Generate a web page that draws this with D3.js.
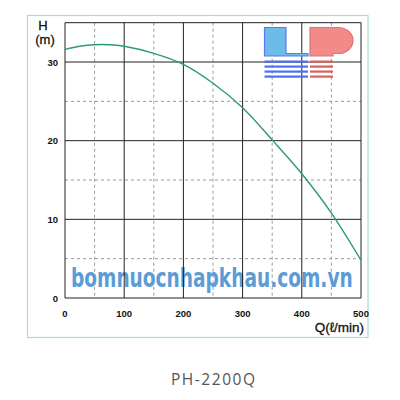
<!DOCTYPE html>
<html><head><meta charset="utf-8">
<script src="https://cdn.jsdelivr.net/npm/d3@7"></script>
<style>body{margin:0;background:#fff}svg{display:block}</style>
</head><body>
<svg id="c" width="400" height="400"></svg>
<script>
const flowQ = [0, 25, 50, 75, 100, 150, 200, 250, 300, 350, 400, 450, 500];
const headH = [31.6, 32.0, 32.2, 32.2, 32.0, 31.1, 29.7, 27.3, 24.2, 20.1, 15.8, 10.8, 4.8];
const xMajor = [0, 100, 200, 300, 400, 500];
const xMinor = [50, 150, 250, 350, 450];
const yMajor = [0, 10, 20, 30];
const yMinor = [5, 15, 25];
const title = "PH-2200Q";
const watermark = "bomnuocnhapkhau.com.vn";

const svg = d3.select("#c");
const x = d3.scaleLinear().domain([0, 500]).range([65, 361]);
const y = d3.scaleLinear().domain([0, 35]).range([298, 22.7]);

// outer frame
svg.append("rect").attr("x", 27.5).attr("y", 15.5).attr("width", 340.5).attr("height", 322)
  .attr("fill", "#fff").attr("stroke", "#a3e2cb").attr("stroke-width", 1.2);

const g = svg.append("g");
// minor dashed grid
g.selectAll(".vm").data(xMinor).join("line")
  .attr("x1", d => x(d)).attr("x2", d => x(d)).attr("y1", y(35)).attr("y2", y(0))
  .attr("stroke", "#999").attr("stroke-dasharray", "3,3").attr("stroke-width", 1);
g.selectAll(".hm").data(yMinor).join("line")
  .attr("y1", d => y(d)).attr("y2", d => y(d)).attr("x1", x(0)).attr("x2", x(500))
  .attr("stroke", "#999").attr("stroke-dasharray", "3,3").attr("stroke-width", 1);

// watermark (behind major grid), scaled horizontally to fit
const wm = svg.append("text").attr("x", 0).attr("y", 0)
  .attr("font-family", "'DejaVu Sans Condensed','Liberation Sans Narrow',sans-serif")
  .attr("font-weight", "bold").attr("font-size", 27).attr("fill", "#5b9bd6")
  .text(watermark);
const wlen = wm.node().getComputedTextLength();
wm.attr("transform", `translate(71,287) scale(${282 / wlen},1)`);

// major grid
const gm = svg.append("g");
gm.selectAll(".vM").data(xMajor).join("line")
  .attr("x1", d => x(d)).attr("x2", d => x(d)).attr("y1", y(35)).attr("y2", y(0))
  .attr("stroke", "#222").attr("stroke-width", 1);
gm.selectAll(".hM").data(yMajor.concat([35])).join("line")
  .attr("y1", d => y(d)).attr("y2", d => y(d)).attr("x1", x(0)).attr("x2", x(500))
  .attr("stroke", "#222").attr("stroke-width", 1);

// logo
const logo = svg.append("g");
logo.append("path")
  .attr("d", "M264.5,27.5 H286 V53.5 H308 V56 H264.5 Z")
  .attr("fill", "#6cbbe9").attr("stroke", "#5a78f0").attr("stroke-width", 1.2);
logo.append("path")
  .attr("d", "M310,27.5 H338 A15,13 0 0 1 338,53.5 H333 V56 H310 Z")
  .attr("fill", "#f28a8a").attr("stroke", "#e07272").attr("stroke-width", 1.2);
[60.5, 65.5, 70.5, 75.5].forEach(yy => {
  logo.append("rect").attr("x", 264.5).attr("y", yy).attr("width", 43.5).attr("height", 2.2).attr("fill", "#4e6ef0");
  logo.append("rect").attr("x", 310).attr("y", yy).attr("width", 23).attr("height", 2.2).attr("fill", "#d86262");
});

// curve
svg.append("path").datum(flowQ.map((q, i) => [q, headH[i]]))
  .attr("fill", "none").attr("stroke", "#2b9c6c").attr("stroke-width", 1.4)
  .attr("d", d3.line().x(d => x(d[0])).y(d => y(d[1])).curve(d3.curveCatmullRom));

// tick labels
const tf = "'Liberation Sans',Arial,sans-serif";
svg.selectAll(".xl").data(xMajor).join("text")
  .attr("x", d => x(d)).attr("y", 317).attr("text-anchor", "middle")
  .attr("font-family", tf).attr("font-weight", "bold").attr("font-size", 9.5).attr("fill", "#111")
  .text(d => d);
svg.selectAll(".yl").data(yMajor).join("text")
  .attr("x", 58).attr("y", d => y(d) + 3.5).attr("text-anchor", "end")
  .attr("font-family", tf).attr("font-weight", "bold").attr("font-size", 9.5).attr("fill", "#111")
  .text(d => d);

// axis titles
svg.append("text").attr("x", 43).attr("y", 30).attr("text-anchor", "middle")
  .attr("font-family", tf).attr("font-size", 13).attr("fill", "#111").attr("stroke", "#111").attr("stroke-width", 0.3).text("H");
svg.append("text").attr("x", 45).attr("y", 44).attr("text-anchor", "middle")
  .attr("font-family", tf).attr("font-size", 13).attr("fill", "#111").attr("stroke", "#111").attr("stroke-width", 0.3).text("(m)");
svg.append("text").attr("x", 364).attr("y", 332).attr("text-anchor", "end")
  .attr("font-family", tf).attr("font-size", 13.5).attr("fill", "#111").attr("stroke", "#111").attr("stroke-width", 0.3).text("Q(ℓ/min)");

// title
svg.append("text").attr("x", 171).attr("y", 385)
  .attr("textLength", 84).attr("lengthAdjust", "spacing")
  .attr("font-family", "'Open Sans',sans-serif").attr("font-size", 15.5).attr("fill", "#555")
  .text(title);
</script>
</body></html>
